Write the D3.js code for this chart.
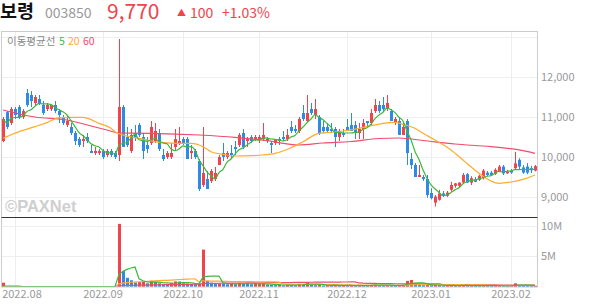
<!DOCTYPE html>
<meta charset="utf-8">
<head>
    <title>보령 차트</title>
    <script src="https://cdn.jsdelivr.net/npm/d3@7"></script>
    <style>
        body { margin: 0; background: #fff; }
        text { font-family: "Noto Sans CJK KR", "Noto Sans", sans-serif; }
    </style>
</head>
<body>
<div id="chart"></div>
<script>
    // candles, 2022-07-27 .. 2023-02-09 (134 trading days)
    var opens = [10400,11120,10850,11200,11250,11000,11600,11550,11350,11450,11300,11200,11200,11300,11150,11000,10800,10750,10600,10450,
        10400,10500,10150,10100,10100,10150,10050,10150,10100,10050,11250,10500,10150,10600,10800,10500,10300,10350,10400,10600,
        10050,10000,10000,10250,10350,10450,10450,10100,10150,9900,9300,9450,9400,9450,9800,10100,10000,10100,10250,10300,
        10600,10400,10500,10450,10450,10450,10450,10350,10350,10450,10500,10450,10750,10700,10650,11100,10900,11200,11050,11000,
        10750,10750,10700,10700,10500,10600,10750,10800,10800,10600,10700,10900,10850,11150,11300,11300,11200,11150,10850,10900,
        10550,10900,9950,9800,9500,9500,9450,9100,8860,8930,9090,9030,9180,9280,9280,9360,9570,9360,9440,9430,
        9470,9610,9610,9580,9630,9760,9590,9660,9720,9930,9740,9760,9720,9660];
    var highs = [11000,11150,11250,11250,11300,11200,11700,11650,11550,11550,11400,11350,11300,11400,11200,11050,11050,10850,10650,10500,
        10550,10600,10300,10250,10200,10200,10200,10200,10150,12950,11300,10750,10700,10800,10850,10600,10500,10900,10850,10700,
        10200,10150,10350,10700,10750,10500,10500,10300,10200,9950,10750,9650,9700,9750,10050,10350,10150,10300,10400,10600,
        10700,10500,10550,10550,10550,10850,10500,10400,10450,10500,10650,10700,10900,10800,11000,11300,11550,11350,11450,11050,
        10900,10850,10850,10750,10700,10700,10950,11100,10900,10850,10950,10900,11200,11450,11400,11500,11550,11200,11000,11000,
        10850,10950,10100,9850,9800,9550,9550,9220,9050,9180,9150,9150,9380,9350,9370,9600,9600,9520,9500,9560,
        9700,9650,9650,9720,9800,9800,9680,9700,10130,9970,9800,9850,9780,9800];
    var lows = [10370,10700,10800,10950,10950,10950,11250,11250,11300,11300,11050,11150,11150,11100,10850,10800,10750,10550,10300,10250,
        10250,10350,10100,10050,10050,9950,10000,10000,9950,9900,10250,10250,10100,10400,10500,9950,10100,10300,10350,10150,
        9900,9950,9950,10150,10300,10300,9950,9950,9950,9150,9250,9200,9350,9400,9800,9900,9950,9950,10050,10250,
        10200,10250,10350,10400,10350,10400,10350,10100,10300,10300,10400,10400,10600,10600,10600,10900,10850,11050,10950,10550,
        10600,10600,10600,10250,10400,10500,10650,10650,10450,10450,10450,10750,10800,11100,11100,11150,11150,10900,10800,10550,
        10550,9800,9700,9500,9500,9400,8980,8940,8760,8910,9000,9000,9130,9230,9250,9340,9350,9300,9370,9400,
        9440,9520,9530,9550,9620,9550,9580,9580,9700,9680,9580,9570,9600,9640];
    var closes = [10950,10750,11200,11050,11000,11150,11300,11400,11500,11350,11100,11300,11300,11150,11050,10850,10900,10600,10400,10300,
        10450,10400,10100,10150,10150,10000,10150,10050,10000,11250,10250,10300,10550,10500,10550,10150,10200,10750,10650,10200,
        9950,10100,10100,10450,10400,10350,9950,10150,10000,9200,9600,9200,9650,9600,10000,10000,10100,10050,10200,10550,
        10250,10450,10400,10500,10500,10550,10400,10300,10450,10400,10450,10550,10650,10650,10950,10950,11100,11100,11200,10600,
        10650,10650,10650,10500,10650,10550,10650,10650,10600,10700,10850,10850,11100,11300,11150,11200,11350,10900,10950,10550,
        10750,10100,9800,9500,9550,9450,9050,8970,9010,9090,9050,9110,9300,9340,9360,9550,9360,9470,9380,9530,
        9660,9550,9550,9680,9760,9590,9630,9610,9840,9760,9610,9610,9670,9770];

    // trading volume, millions of shares
    var volumeM = [0.7,0,0,0,0,0,0,0,0,0,0,0,0,0,0,0,0,0,0,0,
        0,0,0,0,0,0,0,0,0,10.3,2.6,1.5,1.1,0.75,0.8,0.9,0.6,1.0,0.8,0.6,
        0.5,0.45,0.7,0.9,0.9,0.6,0.55,0.5,0.45,0.55,6.1,1.0,0.7,0.55,0.6,0.5,0.45,0.6,0.45,0.7,
        0.55,0.5,0.45,0.5,0.55,0.6,0.4,0.35,0.3,0.35,0.25,0.35,0.3,0.25,0.5,0.45,0.8,0.4,0.3,0.35,
        0.25,0.3,0.2,0.35,0.25,0.3,0.2,0.25,0.2,0.3,0.25,0.2,0.35,0.4,0.3,0.25,0.35,0.3,0.2,0.25,
        0.3,1.0,1.15,0.5,0.35,0.3,0.4,0.3,0.35,0.3,0.2,0.25,0.3,0.2,0.25,0.3,0.2,0.25,0.2,0.2,
        0.3,0.2,0.15,0.2,0.25,0.2,0.15,0.2,0.6,0.3,0.2,0.2,0.15,0.2];

    // moving averages: [day index, price]
    var ma20Pts = [[0,10467],[4,10633],[8,10758],[11,10858],[14,10983],[16,10992],[20,10992],[24,10842],[27,10717],[28,10633],
        [31,10525],[34,10467],[38,10383],[40,10358],[44,10342],[47,10342],[50,10258],[52,10133],[55,10067],[58,10025],
        [62,10033],[65,10050],[68,10092],[72,10233],[75,10383],[79,10592],[81,10608],[85,10650],[89,10717],[92,10783],
        [95,10842],[98,10867],[100,10817],[103,10717],[105,10592],[108,10425],[112,10175],[115,9925],[119,9592],[122,9400],
        [124,9342],[127,9375],[130,9442],[133,9550]];
    var ma60Pts = [[0,11175],[8,11000],[16,10925],[23,10750],[26,10675],[29,10600],[37,10592],[49,10550],[58,10492],[66,10408],
        [74,10300],[80,10350],[87,10387],[94,10462],[99,10475],[105,10412],[113,10325],[122,10258],[130,10158],[133,10092]];

    var monthLabels = ["2022.08","2022.09","2022.10","2022.11","2022.12","2023.01","2023.02"];
    var monthStart = [3,25,45,64,86,107,127];
    var priceTicks = [9000,10000,11000,12000];
    var priceGrid = [9000,10000,11000,12000,13000];
    var volTicks = [5,10];

    var width = 594, height = 304;
    var plotL = 1.5, plotR = 537.5, plotT = 31.5, plotSep = 217, plotB = 287;

    var upColor = "#f0434c", downColor = "#2d8be6";
    var ma5Color = "#3cb93c", ma20Color = "#ffab30", ma60Color = "#f04c6c";

    var svg = d3.select("#chart").append("svg")
        .attr("width", width).attr("height", height);

    var x = d3.scaleLinear().domain([0, 133]).range([3, 535]);
    var y = d3.scaleLinear().domain([8500, 13150]).range([217, 31]);
    var yv = d3.scaleLinear().domain([0, 11.42]).range([plotB, plotSep]);

    // header
    svg.append("text").attr("x", 0).attr("y", 18).attr("font-size", 18.5).attr("font-weight", "bold")
        .attr("fill", "#111").text("보령");
    svg.append("text").attr("x", 45).attr("y", 17.5).attr("font-size", 14).attr("fill", "#999").text("003850");
    svg.append("text").attr("x", 107).attr("y", 18.5).attr("font-size", 21).attr("fill", upColor).text("9,770");
    svg.append("text").attr("x", 177).attr("y", 15.5).attr("font-size", 9).attr("fill", upColor).text("▲");
    svg.append("text").attr("x", 190).attr("y", 17.5).attr("font-size", 14).attr("fill", upColor).text("100");
    svg.append("text").attr("x", 222).attr("y", 17.5).attr("font-size", 14).attr("fill", upColor).text("+1.03%");

    // grid
    var grid = svg.append("g").attr("stroke", "#eee").attr("stroke-width", 1);
    grid.selectAll(".gx").data(monthStart).enter().append("line")
        .attr("x1", function(d) { return Math.round(x(d)) + 0.5; })
        .attr("x2", function(d) { return Math.round(x(d)) + 0.5; })
        .attr("y1", plotT).attr("y2", plotB);
    grid.selectAll(".gy").data(priceGrid).enter().append("line")
        .attr("x1", plotL).attr("x2", plotR)
        .attr("y1", function(d) { return Math.round(y(d)) + 0.5; })
        .attr("y2", function(d) { return Math.round(y(d)) + 0.5; });
    grid.selectAll(".gv").data(volTicks).enter().append("line")
        .attr("x1", plotL).attr("x2", plotR)
        .attr("y1", function(d) { return Math.round(yv(d)) + 0.5; })
        .attr("y2", function(d) { return Math.round(yv(d)) + 0.5; });

    // watermark
    svg.append("text").attr("x", 5).attr("y", 212).attr("font-size", 16.5).attr("font-weight", "bold")
        .style("font-family", "'Liberation Sans', Arial, sans-serif")
        .attr("fill", "#cfcfcf").text("©PAXNet");

    // legend
    var lg = svg.append("text").attr("x", 7).attr("y", 45).attr("font-size", 10.5);
    lg.append("tspan").attr("fill", "#888").text("이동평균선");
    lg.append("tspan").attr("x", 59).attr("fill", ma5Color).text("5");
    lg.append("tspan").attr("x", 68).attr("fill", ma20Color).text("20");
    lg.append("tspan").attr("x", 83).attr("fill", ma60Color).text("60");

    svg.append("clipPath").attr("id", "pclip").append("rect")
        .attr("x", plotL).attr("y", plotT).attr("width", plotR - plotL).attr("height", plotSep - plotT);

    var candles = d3.range(closes.length);
    var pg = svg.append("g").attr("clip-path", "url(#pclip)");

    // candles
    pg.selectAll(".wick").data(candles).enter().append("line")
        .attr("x1", function(i) { return Math.round(x(i)) + 0.5; })
        .attr("x2", function(i) { return Math.round(x(i)) + 0.5; })
        .attr("y1", function(i) { return y(highs[i]); })
        .attr("y2", function(i) { return y(lows[i]); })
        .attr("stroke", function(i) { return closes[i] >= opens[i] ? upColor : downColor; });
    pg.selectAll(".body").data(candles).enter().append("rect")
        .attr("x", function(i) { return Math.round(x(i)) - 1; })
        .attr("width", 3)
        .attr("y", function(i) { return y(Math.max(opens[i], closes[i])); })
        .attr("height", function(i) { return Math.max(1, Math.abs(y(opens[i]) - y(closes[i]))); })
        .attr("fill", function(i) { return closes[i] >= opens[i] ? upColor : downColor; });

    // moving averages
    var ma5 = candles.map(function(i) {
        return [i, d3.mean(closes.slice(Math.max(0, i - 4), i + 1))];
    });
    var priceLine = d3.line()
        .x(function(d) { return x(d[0]); })
        .y(function(d) { return y(d[1]); })
        .curve(d3.curveMonotoneX);
    pg.append("path").attr("d", priceLine(ma60Pts)).attr("fill", "none").attr("stroke", ma60Color).attr("stroke-width", 1.2);
    pg.append("path").attr("d", priceLine(ma20Pts)).attr("fill", "none").attr("stroke", ma20Color).attr("stroke-width", 1.2);
    pg.append("path").attr("d", priceLine(ma5)).attr("fill", "none").attr("stroke", ma5Color).attr("stroke-width", 1.2);

    // volume bars: red when volume rose from the day before
    svg.append("g").selectAll("rect").data(candles.filter(function(i) { return volumeM[i] > 0; })).enter().append("rect")
        .attr("x", function(i) { return Math.round(x(i)) - 1; })
        .attr("width", 3)
        .attr("y", function(i) { return yv(volumeM[i]); })
        .attr("height", function(i) { return Math.max(1, plotB - yv(volumeM[i])); })
        .attr("fill", function(i) { return (i === 0 || volumeM[i] > volumeM[i - 1]) ? upColor : downColor; });

    function volMA(n) {
        return candles.map(function(i) {
            return [i, d3.sum(volumeM.slice(Math.max(0, i - n + 1), i + 1)) / n];
        });
    }
    var volLine = d3.line()
        .x(function(d) { return x(d[0]); })
        .y(function(d) { return Math.min(plotB - 0.5, yv(d[1])); });
    svg.append("path").attr("d", volLine(volMA(60))).attr("fill", "none").attr("stroke", ma60Color).attr("stroke-width", 1.2);
    svg.append("path").attr("d", volLine(volMA(20))).attr("fill", "none").attr("stroke", ma20Color).attr("stroke-width", 1.2);
    svg.append("path").attr("d", volLine(volMA(5))).attr("fill", "none").attr("stroke", ma5Color).attr("stroke-width", 1.2);

    // frame
    svg.append("rect").attr("x", plotL).attr("y", plotT).attr("width", plotR - plotL).attr("height", plotB - plotT)
        .attr("fill", "none").attr("stroke", "#ccc");
    svg.append("line").attr("x1", plotL).attr("x2", plotR).attr("y1", plotSep + 0.5).attr("y2", plotSep + 0.5)
        .attr("stroke", "#333");

    // axis labels
    svg.selectAll(".pl").data(priceTicks).enter().append("text")
        .attr("x", 541).attr("y", function(d) { return y(d); }).attr("dy", "0.35em")
        .attr("font-size", 11).attr("fill", "#999")
        .text(function(d) { return d3.format(",")(d); });
    svg.selectAll(".vl").data(volTicks).enter().append("text")
        .attr("x", 541).attr("y", function(d) { return yv(d); }).attr("dy", "0.35em")
        .attr("font-size", 11).attr("fill", "#999")
        .text(function(d) { return d + "M"; });
    svg.selectAll(".ml").data(monthLabels).enter().append("text")
        .attr("x", function(d, k) { return Math.max(x(monthStart[k]), 22); })
        .attr("y", 294).attr("dy", "0.35em").attr("text-anchor", "middle")
        .attr("font-size", 11).attr("fill", "#999")
        .text(function(d) { return d; });
</script>
</body>
</html>
